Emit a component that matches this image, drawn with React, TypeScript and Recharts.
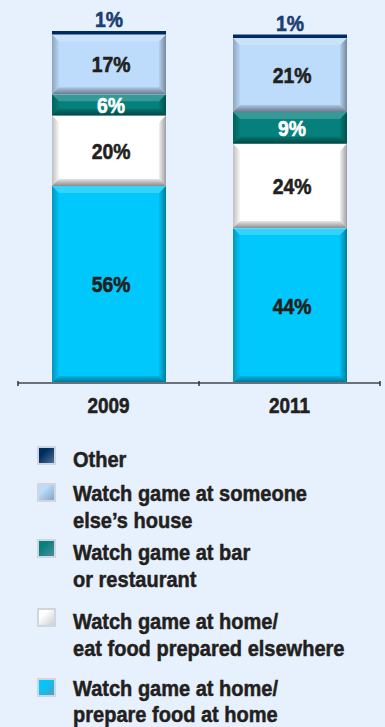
import { BarChart, Bar, XAxis, YAxis, LabelList } from "recharts";

// Where people watched the big game, share of respondents
const years = ["2009", "2011"];
const homePrepare = [56, 44];
const homeEatElsewhere = [20, 24];
const barRestaurant = [6, 9];
const someoneElse = [17, 21];
const other = [1, 1];

const seriesKeys = ["homePrepare", "homeEatElsewhere", "barRestaurant", "someoneElse", "other"];
const seriesNames = [
  "Watch game at home/\nprepare food at home",
  "Watch game at home/\neat food prepared elsewhere",
  "Watch game at bar\nor restaurant",
  "Watch game at someone\nelse\u2019s house",
  "Other",
];
const seriesColors = ["#00c8fc", "#ffffff", "#05807c", "#bddcfb", "#002b5e"];
const labelColors = ["#231f20", "#231f20", "#ffffff", "#231f20", "#1d3f72"];

const data = years.map((year, i) => ({
  year,
  homePrepare: homePrepare[i],
  homeEatElsewhere: homeEatElsewhere[i],
  barRestaurant: barRestaurant[i],
  someoneElse: someoneElse[i],
  other: other[i],
}));

const FONT = "'Liberation Sans', Arial, sans-serif";
const BG = "#e7f1fd";

// bold text squeezed horizontally to look like a condensed face
function NarrowText(props: any) {
  const { x, y, children, fill, size = 22, sx = 0.88, anchor = "middle" } = props;
  return (
    <text
      transform={`translate(${x},${y}) scale(${sx},1)`}
      textAnchor={anchor}
      fontFamily={FONT}
      fontWeight="bold"
      fontSize={size}
      fill={fill}
      stroke={fill}
      strokeWidth={0.6}
    >
      {children}
    </text>
  );
}

// bar segment with a bevelled, shaded edge like the original artwork
function BevelBar(props: any) {
  const { x, y, width, height, fill, flat } = props;
  if (!height || height <= 0) return null;
  if (flat) return <rect x={x} y={y} width={width} height={height} fill={fill} />;
  const b = Math.min(7, height / 3);
  const r = x + width;
  const bt = y + height;
  return (
    <g>
      <rect x={x} y={y} width={width} height={height} fill={fill} />
      <polygon
        points={`${x},${y} ${r},${y} ${r - b},${y + b} ${x + b},${y + b}`}
        fill="#ffffff"
        fillOpacity={0.2}
      />
      <polygon
        points={`${x},${y} ${x + b},${y + b} ${x + b},${bt - b} ${x},${bt}`}
        fill="url(#shadeL)"
      />
      <polygon
        points={`${r},${y} ${r},${bt} ${r - b},${bt - b} ${r - b},${y + b}`}
        fill="url(#shadeR)"
      />
      <polygon
        points={`${x},${bt} ${r},${bt} ${r - b},${bt - b} ${x + b},${bt - b}`}
        fill="url(#shadeB)"
      />
    </g>
  );
}

function YearTick(props: any) {
  const { x, y, payload, index, visibleTicksCount } = props;
  const half = 181 / 2;
  const ay = y - 8;
  return (
    <g>
      <line x1={x - half} x2={x - half} y1={ay - 2} y2={ay + 3} stroke="#333" strokeWidth={1.5} />
      {index === visibleTicksCount - 1 && (
        <line x1={x + half} x2={x + half} y1={ay - 2} y2={ay + 3} stroke="#333" strokeWidth={1.5} />
      )}
      <NarrowText x={x} y={y + 22} fill="#231f20" size={22} sx={0.86}>
        {payload.value}
      </NarrowText>
    </g>
  );
}

function SegmentLabel(props: any) {
  const { x, y, width, height, value, fill, top } = props;
  if (top) {
    return (
      <NarrowText x={x + width / 2} y={y - 4} fill={fill} size={22}>
        {`${value}%`}
      </NarrowText>
    );
  }
  return (
    <NarrowText x={x + width / 2 + 2} y={y + height / 2 + 8} fill={fill} size={22}>
      {`${value}%`}
    </NarrowText>
  );
}

function Legend() {
  const order = [4, 3, 2, 1, 0];
  const tops = [446, 483, 539, 608, 676];
  return (
    <div>
      {order.map((s, i) => (
        <div key={s} style={{ position: "absolute", left: 37, top: tops[i] }}>
          <div
            style={{
              position: "absolute",
              left: 0,
              top: i === 4 ? 2 : 0,
              width: 19,
              height: 19,
              boxSizing: "border-box",
              border: "2px solid #d0d6de",
              background: `linear-gradient(135deg, ${seriesColors[s]} 30%, ${s === 1 ? "#b8b8b8" : "#6f8fa8"} 130%)`,
            }}
          />
          <div
            style={{
              position: "absolute",
              left: 36,
              top: i === 1 ? -3 : 0,
              width: 360,
              fontFamily: FONT,
              fontWeight: "bold",
              fontSize: 22,
              lineHeight: i === 4 ? "26px" : "27px",
              color: "#231f20",
              whiteSpace: "pre",
              WebkitTextStroke: "0.5px #231f20",
              transform: "scaleX(0.91)",
              transformOrigin: "0 0",
            }}
          >
            {seriesNames[s]}
          </div>
        </div>
      ))}
    </div>
  );
}

export default function App() {
  return (
    <div style={{ position: "absolute", left: 0, top: 0, width: 385, height: 727, background: BG, overflow: "hidden" }}>
      <BarChart width={385} height={440} data={data} margin={{ top: 31, right: 5, bottom: 27, left: 18 }}>
        <defs>
          <linearGradient id="shadeB" x1="0" y1="0" x2="0" y2="1">
            <stop offset="0%" stopColor="#000" stopOpacity={0.1} />
            <stop offset="100%" stopColor="#000" stopOpacity={0.45} />
          </linearGradient>
          <linearGradient id="shadeR" x1="0" y1="0" x2="1" y2="0">
            <stop offset="0%" stopColor="#000" stopOpacity={0.05} />
            <stop offset="100%" stopColor="#000" stopOpacity={0.38} />
          </linearGradient>
          <linearGradient id="shadeL" x1="0" y1="0" x2="1" y2="0">
            <stop offset="0%" stopColor="#000" stopOpacity={0.25} />
            <stop offset="100%" stopColor="#000" stopOpacity={0.03} />
          </linearGradient>
        </defs>
        <XAxis
          dataKey="year"
          height={30}
          axisLine={{ stroke: "#6b7079", strokeWidth: 2 }}
          tickLine={false}
          tick={<YearTick />}
          interval={0}
        />
        <YAxis hide domain={[0, 100]} />
        {seriesKeys.map((key, i) => (
          <Bar
            key={key}
            dataKey={key}
            stackId="a"
            barSize={114}
            fill={seriesColors[i]}
            isAnimationActive={false}
            shape={(p: any) => <BevelBar {...p} flat={key === "other"} />}
          >
            <LabelList
              dataKey={key}
              content={(p: any) => <SegmentLabel {...p} fill={labelColors[i]} top={key === "other"} />}
            />
          </Bar>
        ))}
      </BarChart>
      <Legend />
    </div>
  );
}
